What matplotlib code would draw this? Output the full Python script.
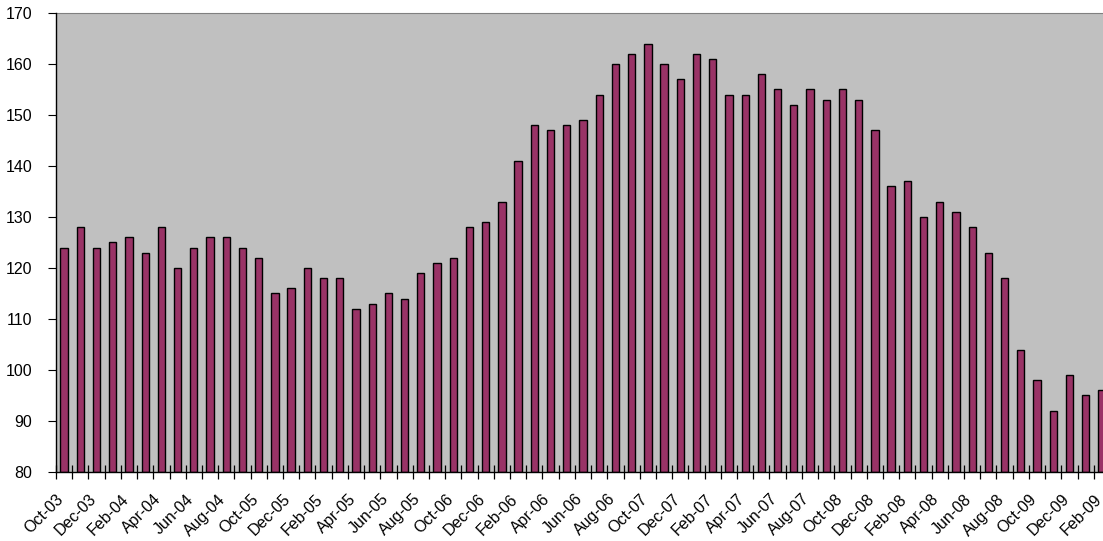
import numpy as np
import matplotlib.transforms as mtransforms
from matplotlib import pyplot as plt

plt.rcParams['font.family'] = ['Liberation Sans', 'DejaVu Sans']

# monthly values, Oct-03 .. Feb-09 (labels as printed on the original chart)
values = [124, 128, 124, 125, 126, 123, 128, 120, 124, 126, 126, 124, 122,
          115, 116, 120, 118, 118, 112, 113, 115, 114, 119, 121, 122, 128,
          129, 133, 141, 148, 147, 148, 149, 154, 160, 162, 164, 160, 157,
          162, 161, 154, 154, 158, 155, 152, 155, 153, 155, 153, 147, 136,
          137, 130, 133, 131, 128, 123, 118, 104, 98, 92, 99, 95, 96]
tick_labels = ['Oct-03', 'Dec-03', 'Feb-04', 'Apr-04', 'Jun-04', 'Aug-04',
               'Oct-05', 'Dec-05', 'Feb-05', 'Apr-05', 'Jun-05', 'Aug-05',
               'Oct-06', 'Dec-06', 'Feb-06', 'Apr-06', 'Jun-06', 'Aug-06',
               'Oct-07', 'Dec-07', 'Feb-07', 'Apr-07', 'Jun-07', 'Aug-07',
               'Oct-08', 'Dec-08', 'Feb-08', 'Apr-08', 'Jun-08', 'Aug-08',
               'Oct-09', 'Dec-09', 'Feb-09']
yticks = [80, 90, 100, 110, 120, 130, 140, 150, 160, 170]

n = len(values)
x = np.arange(n)

fig = plt.figure(figsize=(11.03, 5.41), dpi=100)
# plot area runs a little past the right edge of the picture, like the original
ax = fig.add_axes([56 / 1103, 69 / 541, 1054 / 1103, 459 / 541])
ax.set_facecolor('#C0C0C0')

ax.bar(x, np.array(values) - 80, bottom=80, width=0.45,
       color='#993366', edgecolor='black', linewidth=1.0, zorder=2)

ax.set_xlim(-0.5, n - 0.5)
ax.set_ylim(80, 170)
ax.set_yticks(yticks)
ax.tick_params(axis='y', direction='out', length=6, labelsize=11.5, pad=11)

# labels on every other bar, tick marks between categories
ax.set_xticks(x[::2])
ax.set_xticklabels(tick_labels, rotation=45, ha='right', va='top',
                   rotation_mode='anchor')
ax.set_xticks(np.arange(n + 1) - 0.5, minor=True)
ax.tick_params(axis='x', which='major', length=0, labelsize=11.5, pad=14)
ax.tick_params(axis='x', which='minor', direction='inout', length=10, width=0.9,
               color='black')
shift = mtransforms.ScaledTranslation(-0.08, 0, fig.dpi_scale_trans)
for lab in ax.get_xticklabels():
    lab.set_transform(lab.get_transform() + shift)

for side in ['left', 'bottom']:
    ax.spines[side].set_color('black')
    ax.spines[side].set_linewidth(1.0)
    ax.spines[side].set_zorder(3)
ax.spines['top'].set_color('#808080')
ax.spines['right'].set_visible(False)

fig.savefig('out.png', dpi=100)
